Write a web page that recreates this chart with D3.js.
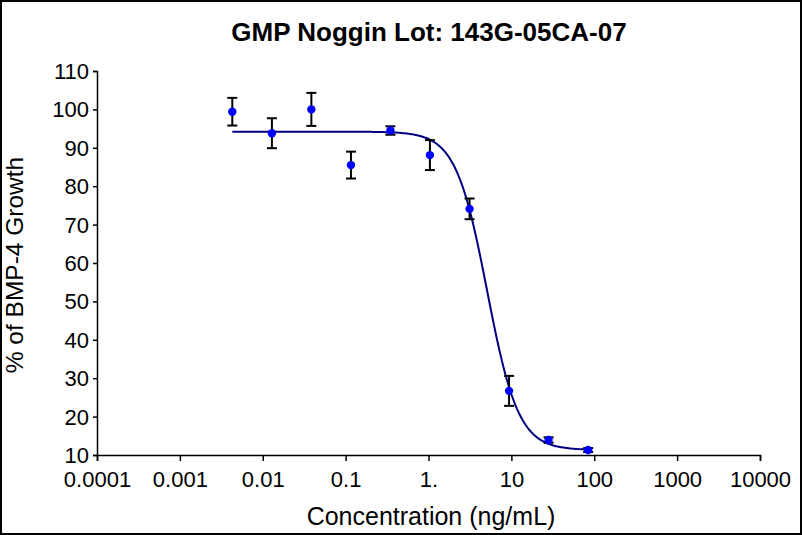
<!DOCTYPE html>
<html>
<head>
<meta charset="utf-8">
<script src="https://cdn.jsdelivr.net/npm/d3@7"></script>
<style>
  html, body { margin: 0; padding: 0; background: #fff; }
  svg { display: block; font-family: "Liberation Sans", Arial, sans-serif; }
</style>
</head>
<body>
<div id="viz"></div>
<script>
const W = 802;
const H = 535;
const M = { left: 97, right: 760, top: 71, bottom: 455 };

// Measured points (concentration ng/mL, % growth, error)
const conc = [0.00429, 0.0129, 0.0386, 0.116, 0.347, 1.04, 3.13, 9.38, 28.1, 84.4];
const growth = [99.4, 93.8, 100.0, 85.5, 94.5, 88.1, 74.1, 26.7, 13.9, 11.3];
const errs = [3.6, 3.9, 4.3, 3.5, 1.1, 3.9, 2.7, 3.9, 0.7, 0.5];

// 4-parameter logistic fit: top, bottom, EC50, hill slope
const fitTop = 94.2;
const fitBottom = 11.3;
const fitEC50 = 5.1;
const fitHill = 2.3;

const xTicks = [0.0001, 0.001, 0.01, 0.1, 1, 10, 100, 1000, 10000];
const xTickLabels = ['0.0001', '0.001', '0.01', '0.1', '1.', '10', '100', '1000', '10000'];
const yTicks = [10, 20, 30, 40, 50, 60, 70, 80, 90, 100, 110];

const svg = d3.select('#viz').append('svg').attr('width', W).attr('height', H);

svg.append('rect')
  .attr('x', 1).attr('y', 1).attr('width', W - 2).attr('height', H - 2)
  .attr('fill', '#fff').attr('stroke', '#000').attr('stroke-width', 2);

const x = d3.scaleLog().domain([0.0001, 10000]).range([M.left, M.right]);
const y = d3.scaleLinear().domain([10, 110]).range([M.bottom, M.top]);

const xAxis = svg.append('g')
  .attr('transform', `translate(0,${M.bottom})`)
  .call(d3.axisBottom(x).tickValues(xTicks).tickFormat((d, i) => xTickLabels[i]).tickSizeOuter(0).tickSize(6).tickPadding(10));

const yAxis = svg.append('g')
  .attr('transform', `translate(${M.left},0)`)
  .call(d3.axisLeft(y).tickValues(yTicks).tickSizeOuter(0).tickSize(4).tickPadding(4));

[xAxis, yAxis].forEach((g) => {
  g.select('.domain').attr('stroke', '#000').attr('stroke-width', 1.5);
  g.selectAll('.tick line').attr('stroke', '#000').attr('stroke-width', 1.5);
  g.selectAll('.tick text')
    .attr('fill', '#000')
    .attr('font-size', 22)
    .attr('font-family', '"Liberation Sans", Arial, sans-serif');
});
yAxis.selectAll('.tick text').attr('dy', '0.34em');

// fitted curve
const logMin = Math.log10(conc[0]);
const logMax = Math.log10(conc[conc.length - 1]);
const curve = d3.range(0, 201).map((i) => {
  const c = Math.pow(10, logMin + (logMax - logMin) * i / 200);
  return [c, fitBottom + (fitTop - fitBottom) / (1 + Math.pow(c / fitEC50, fitHill))];
});

svg.append('path')
  .datum(curve)
  .attr('fill', 'none')
  .attr('stroke', '#000080')
  .attr('stroke-width', 2)
  .attr('d', d3.line().x((d) => x(d[0])).y((d) => y(d[1])));

const pts = conc.map((c, i) => ({ c, v: growth[i], e: errs[i] }));

const bars = svg.append('g').attr('stroke', '#000').attr('stroke-width', 2);
pts.forEach((d) => {
  const cx = x(d.c);
  bars.append('line').attr('x1', cx).attr('x2', cx).attr('y1', y(d.v + d.e)).attr('y2', y(d.v - d.e));
  bars.append('line').attr('x1', cx - 5).attr('x2', cx + 5).attr('y1', y(d.v + d.e)).attr('y2', y(d.v + d.e));
  bars.append('line').attr('x1', cx - 5).attr('x2', cx + 5).attr('y1', y(d.v - d.e)).attr('y2', y(d.v - d.e));
});

svg.append('g').selectAll('circle')
  .data(pts)
  .join('circle')
  .attr('cx', (d) => x(d.c))
  .attr('cy', (d) => y(d.v))
  .attr('r', 4.2)
  .attr('fill', '#0000ff');

svg.append('text')
  .attr('x', 429).attr('y', 41)
  .attr('text-anchor', 'middle')
  .attr('font-size', 26).attr('font-weight', 'bold')
  .text('GMP Noggin Lot: 143G-05CA-07');

svg.append('text')
  .attr('x', 431).attr('y', 524.5)
  .attr('text-anchor', 'middle')
  .attr('font-size', 25)
  .text('Concentration (ng/mL)');

svg.append('text')
  .attr('transform', 'translate(23,265) rotate(-90)')
  .attr('text-anchor', 'middle')
  .attr('font-size', 24.5)
  .text('% of BMP-4 Growth');
</script>
</body>
</html>
